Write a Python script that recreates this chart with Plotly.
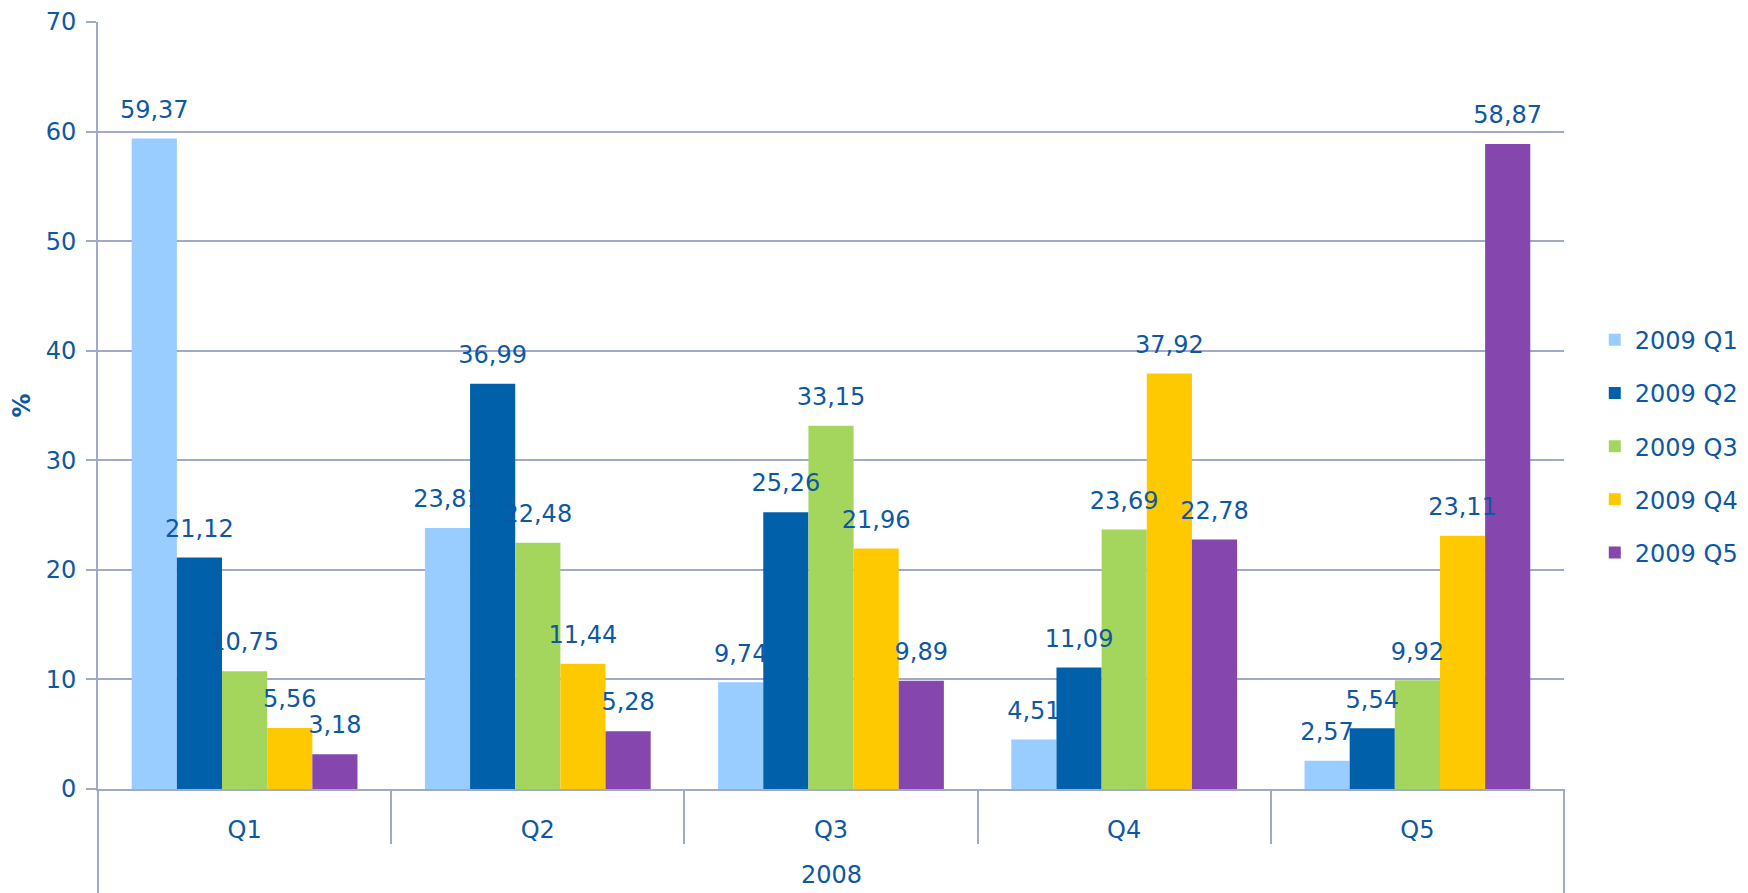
import plotly.graph_objects as go

# data
year_2008 = "2008"
quintiles_2008 = ["Q1", "Q2", "Q3", "Q4", "Q5"]
series_names = ["2009 Q1", "2009 Q2", "2009 Q3", "2009 Q4", "2009 Q5"]
q1_2009 = [59.37, 23.81, 9.74, 4.51, 2.57]
q2_2009 = [21.12, 36.99, 25.26, 11.09, 5.54]
q3_2009 = [10.75, 22.48, 33.15, 23.69, 9.92]
q4_2009 = [5.56, 11.44, 21.96, 37.92, 23.11]
q5_2009 = [3.18, 5.28, 9.89, 22.78, 58.87]

colors = ["#99CCFF", "#0061AA", "#A4D65E", "#FFC900", "#8547AD"]
text_color = "#0E58A3"
grid_color = "#A1A9C9"
font_family = "'DejaVu Sans', sans-serif"
fsize = 24

all_series = [q1_2009, q2_2009, q3_2009, q4_2009, q5_2009]

fig = go.Figure()
for name, vals, col in zip(series_names, all_series, colors):
    fig.add_trace(go.Bar(
        x=quintiles_2008,
        y=vals,
        name=name,
        legendgroup=name,
        marker=dict(color=col, line=dict(width=0)),
    ))

# data labels: grouped text-only scatter so they line up with the bars
for name, vals in zip(series_names, all_series):
    fig.add_trace(go.Scatter(
        x=quintiles_2008,
        y=vals,
        mode="markers+text",
        marker=dict(size=22, opacity=0),
        text=[f"{v:.2f}".replace(".", ",") for v in vals],
        textposition="top center",
        textfont=dict(color=text_color, size=fsize, family=font_family),
        showlegend=False,
        hoverinfo="skip",
        cliponaxis=False,
    ))

fig.update_layout(
    width=1748,
    height=893,
    barmode="group",
    bargap=0.23,
    bargroupgap=0,
    scattermode="group",
    scattergap=0.23,
    separators=", ",
    plot_bgcolor="white",
    paper_bgcolor="white",
    font=dict(family=font_family, size=fsize, color=text_color),
    margin=dict(l=90, r=192, t=14, b=112),
    legend=dict(
        x=1.021, xanchor="left",
        y=0.447, yanchor="middle",
        traceorder="grouped",
        tracegroupgap=19,
        font=dict(size=fsize, color=text_color),
        itemclick=False,
    ),
    annotations=[dict(
        text=year_2008, xref="paper", yref="paper",
        x=0.5, y=-0.112, xanchor="center", yanchor="middle",
        showarrow=False, font=dict(size=fsize, color=text_color),
    )],
    shapes=[
        dict(type="line", xref="paper", yref="paper", x0=0, x1=0, y0=0, y1=-0.14,
             line=dict(color=grid_color, width=2)),
        dict(type="line", xref="paper", yref="paper", x0=1, x1=1, y0=0, y1=-0.14,
             line=dict(color=grid_color, width=2)),
    ],
)

fig.update_yaxes(
    range=[0, 70],
    dtick=10,
    automargin=False,
    showgrid=True,
    gridcolor=grid_color,
    gridwidth=2,
    showline=True,
    linecolor=grid_color,
    linewidth=2,
    ticks="outside",
    ticklen=10,
    tickwidth=2,
    tickcolor=grid_color,
    ticklabelstandoff=5,
    zeroline=False,
    title=dict(text="<b>%</b>", standoff=34, font=dict(size=fsize, color=text_color)),
)

fig.update_xaxes(
    automargin=False,
    showline=True,
    linecolor=grid_color,
    linewidth=2,
    ticks="outside",
    tickson="boundaries",
    ticklen=53,
    tickwidth=2,
    tickcolor=grid_color,
    ticklabelstandoff=18,
    showgrid=False,
)

fig.write_html("out.html")
